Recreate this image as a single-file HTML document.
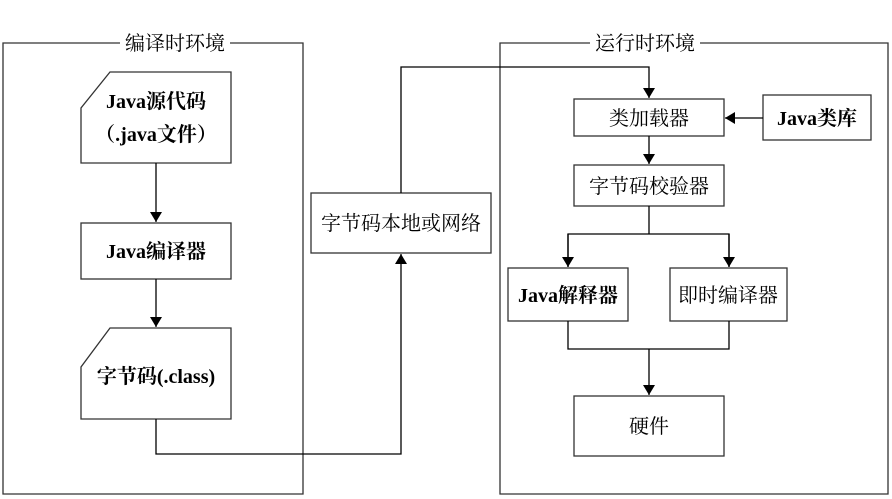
<!DOCTYPE html>
<html><head><meta charset="utf-8"><style>
html,body{margin:0;padding:0;background:#fff;}
svg{display:block;}
text{font-family:"Liberation Serif","Noto Serif CJK SC",serif;fill:#000;}
.b{font-weight:bold;}
</style></head><body>
<svg width="892" height="499" viewBox="0 0 892 499" xmlns="http://www.w3.org/2000/svg">
<defs><marker id="a" markerWidth="10" markerHeight="12" refX="10" refY="6" orient="auto" markerUnits="userSpaceOnUse"><path d="M0,0 L10,6 L0,12 z" fill="#000"/></marker></defs>
<g fill="none" stroke="#333" stroke-width="1.3">
<!-- left env -->
<path d="M120,43 H3 V494 H303 V43 H230"/>
<!-- right env -->
<path d="M590,43 H500 V494 H888 V43 H700"/>
<path d="M110,72 H231 V163 H81 V108 Z"/>
<rect x="81" y="223" width="150" height="56"/>
<path d="M110,328 H231 V419 H81 V367 Z"/>
<rect x="311" y="193" width="180" height="60"/>
<rect x="574" y="99" width="150" height="37"/>
<rect x="763" y="95" width="108" height="45"/>
<rect x="574" y="165" width="150" height="41"/>
<rect x="508" y="268" width="120" height="53"/>
<rect x="670" y="268" width="117" height="53"/>
<rect x="574" y="396" width="150" height="60"/>
<g stroke="#000">
<path d="M156,163 V222" marker-end="url(#a)"/>
<path d="M156,279 V327" marker-end="url(#a)"/>
<path d="M156,419 V454 H401 V254" marker-end="url(#a)"/>
<path d="M401,193 V67 H649 V98" marker-end="url(#a)"/>
<path d="M763,118 H725" marker-end="url(#a)"/>
<path d="M649,136 V164" marker-end="url(#a)"/>
<path d="M649,206 V234 M568,267 V234 H729 V267" />
<path d="M568,234 V267" marker-end="url(#a)"/>
<path d="M729,234 V267" marker-end="url(#a)"/>
<path d="M568,321 V349 H729 V321 M649,349 V395" marker-end="url(#a)"/>
</g>
</g>
<g font-size="20" text-anchor="middle">
<text x="175" y="50">编译时环境</text>
<text x="645" y="50">运行时环境</text>
<text class="b" x="156" y="108">Java源代码</text>
<text class="b" x="156" y="141">（.java文件）</text>
<text class="b" x="156" y="258">Java编译器</text>
<text class="b" x="156" y="383">字节码(.class)</text>
<text x="401" y="230">字节码本地或网络</text>
<text x="649" y="125">类加载器</text>
<text class="b" x="817" y="125">Java类库</text>
<text x="649" y="193">字节码校验器</text>
<text class="b" x="568" y="302">Java解释器</text>
<text x="728" y="302">即时编译器</text>
<text x="649" y="433">硬件</text>
</g>
</svg>
</body></html>
